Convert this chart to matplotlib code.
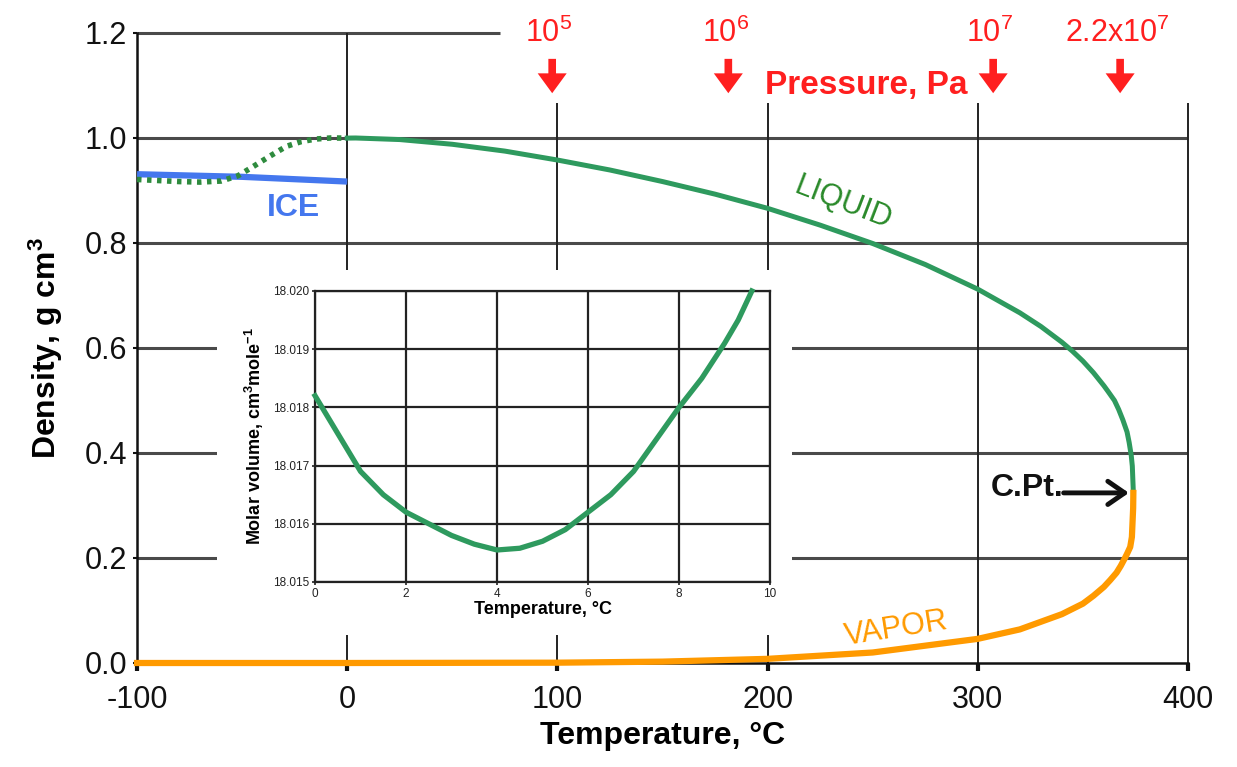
import numpy as np
import matplotlib
matplotlib.use('Agg')
import matplotlib.pyplot as plt
from matplotlib.patches import Rectangle

plt.rcParams['font.family'] = ['Liberation Sans', 'DejaVu Sans']
plt.rcParams['mathtext.fontset'] = 'custom'
plt.rcParams['mathtext.rm'] = 'Liberation Sans'
plt.rcParams['mathtext.bf'] = 'Liberation Sans:bold'
plt.rcParams['mathtext.it'] = 'Liberation Sans:italic'
plt.rcParams['axes.unicode_minus'] = False

# ── density of water, g cm^-3 ──────────────────────────────
liq_T   = [0, 4, 25, 50, 75, 100, 125, 150, 175, 200, 225, 250, 275,
           300, 320, 330, 340, 345, 350, 355, 360, 362, 365, 367, 369,
           371, 372, 373, 373.5, 374]
liq_rho = [0.9998, 1.000, 0.997, 0.988, 0.975, 0.958, 0.939, 0.917, 0.893,
           0.866, 0.834, 0.799, 0.759, 0.712, 0.667, 0.641, 0.611, 0.594,
           0.575, 0.553, 0.528, 0.517, 0.500, 0.483, 0.463, 0.440, 0.420,
           0.395, 0.375, 0.324]

# supercooled liquid (dotted)
sc_T   = [-100, -90, -80, -70, -60, -52, -45, -37, -29, -22, -15, -8, 0]
sc_rho = [0.921, 0.919, 0.917, 0.916, 0.918, 0.928, 0.945, 0.965, 0.984,
          0.993, 0.998, 1.000, 0.9998]

ice_T   = [-100, -50, 0]
ice_rho = [0.931, 0.926, 0.917]

vap_T   = [-100, 0, 100, 150, 200, 250, 300, 320, 340, 350, 355, 360, 363,
           366, 368, 370, 371, 372.5, 373.3, 373.9, 374]
vap_rho = [0.0, 0.0, 0.0006, 0.0026, 0.0079, 0.020, 0.046, 0.064, 0.093,
           0.113, 0.128, 0.145, 0.158, 0.172, 0.185, 0.200, 0.208, 0.221,
           0.240, 0.295, 0.324]

# saturation pressures marked along the top
p_labels = ['10$^5$', '10$^6$', '10$^7$', '2.2x10$^7$']
p_T      = [97.5, 181.3, 307.3, 367.7]

# inset: molar volume around the density maximum
mv_T = [0, 0.5, 1, 1.5, 2, 2.5, 3, 3.5, 4, 4.5, 5, 5.5, 6, 6.5, 7, 7.5,
        8, 8.5, 9, 9.3, 9.6]
mv_V = [18.0182, 18.01755, 18.0169, 18.0165, 18.0162, 18.0160, 18.0158,
        18.01565, 18.01555, 18.01558, 18.0157, 18.0159, 18.0162, 18.0165,
        18.0169, 18.01745, 18.0180, 18.0185, 18.0191, 18.0195, 18.0200]

GREEN = '#2e9a5e'
RED   = '#ff1f1f'
BLUE  = '#4477ee'
ORNG  = '#ff9a00'

fig = plt.figure(figsize=(12.37, 7.67), dpi=100)
ax = fig.add_axes([0.1108, 0.1356, 0.8496, 0.8214])
ax.set_xlim(-100, 400)
ax.set_ylim(0, 1.2)

for s in ['top', 'right']:
    ax.spines[s].set_visible(False)
for s in ['left', 'bottom']:
    ax.spines[s].set_linewidth(1.8)
    ax.spines[s].set_color('#111111')

# grid drawn by hand, the top line only runs partway
for yv in [0.2, 0.4, 0.6, 0.8, 1.0]:
    ax.hlines(yv, -100, 400, color='#4a4a4a', lw=2.2, zorder=1)
ax.hlines(1.2, -100, 72.7, color='#4a4a4a', lw=2.2, zorder=1, clip_on=False)
ax.vlines(0, 0, 1.2, color='#222222', lw=1.4, zorder=1)
for xv in [100, 200, 300, 400]:
    ax.vlines(xv, 0, 1.067, color='#222222', lw=1.4, zorder=1, clip_on=False)

# blank area behind the inset
ax.add_patch(Rectangle((0.1754, 0.172), 0.4649, 0.4759, transform=fig.transFigure,
                       facecolor='white', edgecolor='none', zorder=2, clip_on=False))

ax.plot(ice_T, ice_rho, color=BLUE, lw=4.5, zorder=3, solid_capstyle='butt')
ax.plot(sc_T, sc_rho, color='#2e8b3e', lw=4, ls=(0, (0.8, 1.0)), zorder=4)
ax.plot(liq_T, liq_rho, color=GREEN, lw=3.6, zorder=4)
ax.plot(vap_T, vap_rho, color=ORNG, lw=4.5, zorder=4, clip_on=False)

ax.set_xticks([-100, 0, 100, 200, 300, 400])
ax.set_yticks([0, 0.2, 0.4, 0.6, 0.8, 1.0, 1.2])
ax.set_yticklabels(['%.1f' % v for v in ax.get_yticks()])
ax.tick_params(axis='both', labelsize=22, colors='#111111')
ax.tick_params(axis='x', length=6, width=3, direction='out', pad=10)
ax.tick_params(axis='y', length=3, width=1.5, direction='out', pad=4)

ax.set_xlabel('Temperature, \u00b0C', fontsize=23, fontweight='bold', labelpad=4)
ax.set_ylabel(r'Density, g cm$^{\mathbf{3}}$', fontsize=23, fontweight='bold', labelpad=14)

# phase labels
ax.text(-25.7, 0.866, 'ICE', color=BLUE, fontsize=23, fontweight='bold',
        ha='center', va='center', zorder=5)
ax.text(236, 0.876, 'LIQUID', color='#2a8a2a', fontsize=22, rotation=-21,
        ha='center', va='center', zorder=5)
ax.text(261, 0.064, 'VAPOR', color=ORNG, fontsize=22, rotation=9,
        ha='center', va='center', zorder=5)

# critical point
ax.text(340.8, 0.333, 'C.Pt.', fontsize=23, fontweight='bold', color='#111111',
        ha='right', va='center', zorder=6)
ax.annotate('', xy=(373.2, 0.324), xytext=(339.5, 0.324),
            arrowprops=dict(arrowstyle='->,head_length=0.55,head_width=0.38',
                            color='#111111', lw=3.5, mutation_scale=22),
            zorder=6)

# pressure markers
for lab, t in zip(p_labels, p_T):
    ax.annotate('', xy=(t, 1.080), xytext=(t, 1.156),
                arrowprops=dict(arrowstyle='simple,head_width=0.95,head_length=0.65,tail_width=0.25',
                                color=RED, lw=0, mutation_scale=22),
                annotation_clip=False)
    ax.text(t - 1.5, 1.182, lab, color=RED, fontsize=22, ha='center', va='baseline',
            clip_on=False)
ax.text(247, 1.083, 'Pressure, Pa', color=RED, fontsize=24, fontweight='bold',
        ha='center', va='baseline', clip_on=False)

# inset
axi = fig.add_axes([0.2547, 0.2412, 0.3678, 0.3794])
axi.set_xlim(0, 10)
axi.set_ylim(18.015, 18.020)
axi.set_xticks([0, 2, 4, 6, 8, 10])
axi.set_yticks([18.015, 18.016, 18.017, 18.018, 18.019, 18.020])
axi.set_yticklabels(['%.3f' % v for v in axi.get_yticks()])
axi.grid(True, color='#222222', lw=1.6)
for s in axi.spines.values():
    s.set_linewidth(1.6)
    s.set_color('#222222')
axi.tick_params(labelsize=8.5, length=2, width=1.2, pad=2, colors='#222222')
axi.plot(mv_T, mv_V, color=GREEN, lw=3.8, zorder=5, clip_on=False)
axi.set_xlabel('Temperature, \u00b0C', fontsize=13, fontweight='bold', labelpad=1)
axi.set_ylabel(r'Molar volume, cm$^{\mathbf{3}}$mole$^{\mathbf{-1}}$', fontsize=13,
               fontweight='bold', labelpad=5)

fig.savefig('out.png', dpi=100)
